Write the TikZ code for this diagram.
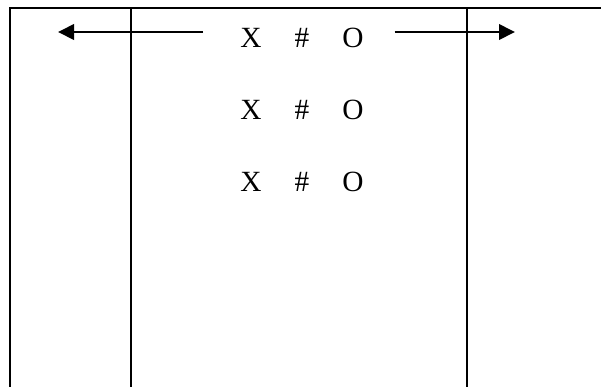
\documentclass[tikz,border=0pt]{standalone}
\usepackage{fontspec}
\setmainfont{Liberation Serif}
\usetikzlibrary{arrows.meta}

\begin{document}
\begin{tikzpicture}[x=0.75pt, y=-0.75pt,
  frame/.style={line width=1.1pt},
  sym/.style={font=\fontsize{22}{26}\selectfont, inner sep=0pt, anchor=base},
  arrow/.style={-{Triangle[length=12pt,width=11.5pt]}, line width=2pt}]
\useasboundingbox (0,0) rectangle (601,387);
\draw[frame] (601,8) -- (10,8) -- (10,387);
\draw[frame] (131,8) -- (131,387);
\draw[frame] (467,8) -- (467,387);
\foreach \r/\y in {1/47, 2/119, 3/191} {
  \node[sym] (x\r) at (251,\y) {X};
  \node[sym] (h\r) at (302,\y) {\#};
  \node[sym] (o\r) at (353,\y) {O};
}
\coordinate (lt) at (58,32);
\coordinate (rt) at (515,32);
\draw[arrow, shorten <=27.75pt] (x1.west |- lt) -- (lt);
\draw[arrow, shorten <=23pt] (o1.east |- rt) -- (rt);
\end{tikzpicture}
\end{document}
